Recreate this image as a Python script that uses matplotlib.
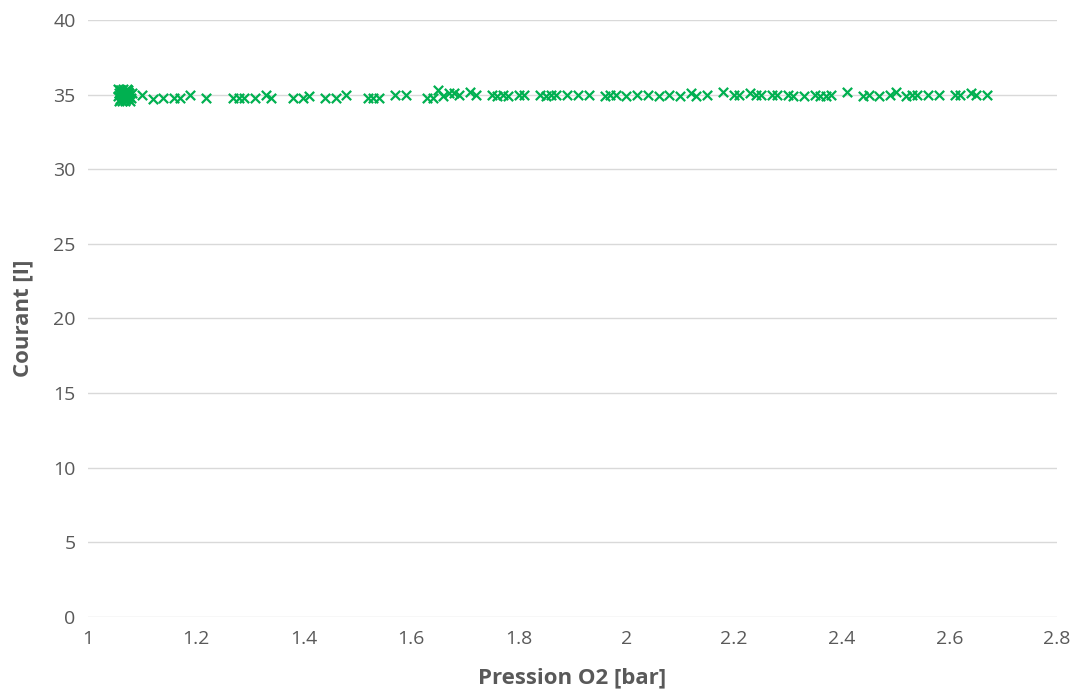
import numpy as np
import matplotlib.pyplot as plt
from matplotlib.ticker import FuncFormatter

# Oxygen pressure [bar] and current [I] measurements
cluster_p = [1.055, 1.058, 1.060, 1.062, 1.064, 1.066, 1.068, 1.070, 1.072, 1.074, 1.076, 1.078,
             1.056, 1.059, 1.061, 1.063, 1.065, 1.067, 1.069, 1.071, 1.073, 1.075, 1.077, 1.082,
             1.057, 1.062, 1.066, 1.070, 1.074, 1.080]
cluster_i = [35.4, 35.1, 34.7, 35.3, 34.9, 35.2, 34.6, 35.0, 35.4, 34.8, 35.1, 34.6,
             34.9, 35.3, 35.0, 34.6, 35.4, 34.8, 35.2, 34.7, 35.0, 35.3, 34.9, 35.1,
             34.6, 35.2, 35.0, 34.7, 35.2, 34.8]

pressure = [1.10, 1.12, 1.14, 1.16, 1.17, 1.19, 1.22, 1.27, 1.28, 1.29, 1.31, 1.33, 1.34,
            1.38, 1.40, 1.41, 1.44, 1.46, 1.48, 1.52, 1.53, 1.54, 1.57, 1.59, 1.63, 1.64,
            1.65, 1.66, 1.67, 1.68, 1.69, 1.71, 1.72, 1.75, 1.76, 1.77, 1.78, 1.80, 1.81,
            1.84, 1.85, 1.86, 1.87, 1.89, 1.91, 1.93, 1.96, 1.97, 1.98, 2.00, 2.02, 2.04,
            2.06, 2.08, 2.10, 2.12, 2.13, 2.15, 2.18, 2.20, 2.21, 2.23, 2.24, 2.25, 2.27,
            2.28, 2.30, 2.31, 2.33, 2.35, 2.36, 2.37, 2.38, 2.41, 2.44, 2.45, 2.47, 2.49,
            2.50, 2.52, 2.53, 2.54, 2.56, 2.58, 2.61, 2.62, 2.64, 2.65, 2.67]
current = [35.0, 34.7, 34.8, 34.8, 34.8, 35.0, 34.8, 34.8, 34.8, 34.8, 34.8, 35.0, 34.8,
           34.8, 34.8, 34.9, 34.8, 34.8, 35.0, 34.8, 34.8, 34.8, 35.0, 35.0, 34.8, 34.8,
           35.3, 34.9, 35.1, 35.1, 35.0, 35.2, 35.0, 35.0, 34.9, 35.0, 34.9, 35.0, 35.0,
           35.0, 34.9, 35.0, 35.0, 35.0, 35.0, 35.0, 34.9, 35.0, 35.0, 34.9, 35.0, 35.0,
           34.9, 35.0, 34.9, 35.1, 34.9, 35.0, 35.2, 35.0, 35.0, 35.1, 35.0, 35.0, 35.0,
           35.0, 35.0, 34.9, 34.9, 35.0, 34.9, 34.9, 35.0, 35.2, 34.9, 35.0, 34.9, 35.0,
           35.2, 34.9, 35.0, 35.0, 35.0, 35.0, 35.0, 35.0, 35.1, 35.0, 35.0]

x = np.array(cluster_p + pressure)
y = np.array(cluster_i + current)

plt.rcParams['font.family'] = ['Open Sans', 'DejaVu Sans']
grey = '#595959'

fig = plt.figure(figsize=(10.75, 6.99), dpi=100)
ax = fig.add_axes([0.0819, 0.1173, 0.9014, 0.8541])

ax.scatter(x, y, marker='x', s=45, linewidths=1.6, color='#00B050', zorder=3)

ax.set_xlim(1, 2.8)
ax.set_ylim(0, 40)
ax.set_xticks(np.arange(1, 2.81, 0.2))
ax.set_yticks(range(0, 41, 5))
ax.xaxis.set_major_formatter(FuncFormatter(lambda v, p: f'{v:g}'))

ax.grid(axis='y', color='#D9D9D9', linewidth=1)
ax.set_axisbelow(True)
for s in ax.spines.values():
    s.set_visible(False)
ax.tick_params(length=0, labelsize=14, colors=grey, pad=9)

ax.set_xlabel('Pression O2 [bar]', fontsize=16, fontweight='bold', color=grey, labelpad=14)
ax.set_ylabel('Courant [I]', fontsize=16, fontweight='bold', color=grey, labelpad=14)

fig.savefig('out.png')
